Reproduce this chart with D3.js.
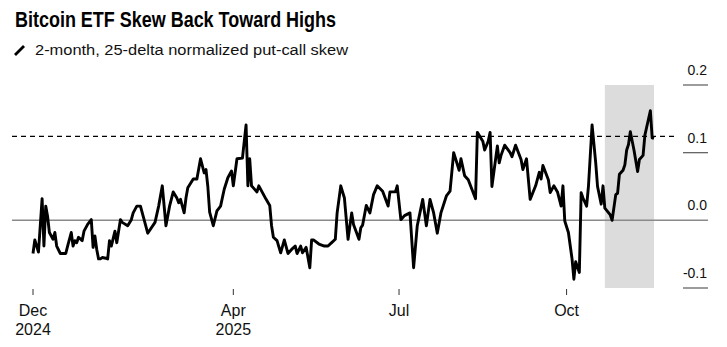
<!DOCTYPE html>
<html>
<head>
<meta charset="utf-8">
<script src="https://cdn.jsdelivr.net/npm/d3@7"></script>
<style>
  body { margin: 0; background: #fff; }
  text { font-family: "Liberation Sans", Arial, Helvetica, sans-serif; }
</style>
</head>
<body>
<script>
// ---- data ----
var dates = [
  "2024-12-12","2024-12-13","2024-12-15","2024-12-17","2024-12-18","2024-12-19","2024-12-20","2024-12-21","2024-12-23","2024-12-24","2024-12-25","2024-12-27","2024-12-30","2024-12-31",
  "2025-01-02","2025-01-03","2025-01-04","2025-01-05","2025-01-06","2025-01-08","2025-01-09","2025-01-11","2025-01-13","2025-01-14","2025-01-15","2025-01-16","2025-01-17","2025-01-18","2025-01-19","2025-01-21","2025-01-22","2025-01-23","2025-01-24","2025-01-26","2025-01-27","2025-01-29","2025-01-30",
  "2025-02-02","2025-02-04","2025-02-05","2025-02-07","2025-02-09","2025-02-11","2025-02-13","2025-02-17","2025-02-19","2025-02-21","2025-02-23","2025-02-25","2025-02-27",
  "2025-03-01","2025-03-02","2025-03-03","2025-03-05","2025-03-06","2025-03-07","2025-03-10","2025-03-12","2025-03-14","2025-03-16","2025-03-17","2025-03-18","2025-03-19","2025-03-21","2025-03-23","2025-03-25","2025-03-27","2025-03-29","2025-03-31",
  "2025-04-01","2025-04-03","2025-04-06","2025-04-08","2025-04-09","2025-04-10","2025-04-11","2025-04-12","2025-04-14","2025-04-15","2025-04-17","2025-04-19","2025-04-21","2025-04-22","2025-04-23","2025-04-25","2025-04-27","2025-04-29",
  "2025-05-01","2025-05-03","2025-05-05","2025-05-06","2025-05-08","2025-05-09","2025-05-11","2025-05-13","2025-05-14","2025-05-15","2025-05-18","2025-05-21","2025-05-23","2025-05-25","2025-05-27","2025-05-28","2025-05-30",
  "2025-06-01","2025-06-03","2025-06-05","2025-06-06","2025-06-09","2025-06-10","2025-06-11","2025-06-13","2025-06-15","2025-06-17","2025-06-19","2025-06-22","2025-06-25","2025-06-26","2025-06-29","2025-06-30",
  "2025-07-02","2025-07-04","2025-07-07","2025-07-09","2025-07-11","2025-07-14","2025-07-16","2025-07-18","2025-07-20","2025-07-22","2025-07-24","2025-07-27","2025-07-29","2025-07-31",
  "2025-08-03","2025-08-04","2025-08-06","2025-08-08","2025-08-12","2025-08-13","2025-08-16","2025-08-17","2025-08-19","2025-08-20","2025-08-21","2025-08-24","2025-08-25","2025-08-26","2025-08-28","2025-08-31",
  "2025-09-01","2025-09-03","2025-09-06","2025-09-07","2025-09-09","2025-09-11","2025-09-14","2025-09-16","2025-09-17","2025-09-18","2025-09-21","2025-09-22","2025-09-24","2025-09-26","2025-09-28","2025-09-29","2025-09-30",
  "2025-10-02","2025-10-04","2025-10-05","2025-10-06","2025-10-08","2025-10-09","2025-10-10","2025-10-12","2025-10-13","2025-10-15","2025-10-17","2025-10-18","2025-10-20","2025-10-21","2025-10-22","2025-10-25","2025-10-26","2025-10-28","2025-10-29","2025-10-30",
  "2025-11-01","2025-11-02","2025-11-03","2025-11-04","2025-11-05","2025-11-07","2025-11-09","2025-11-10","2025-11-12","2025-11-13","2025-11-16","2025-11-17","2025-11-18"
];

var skew = [
  -0.049,-0.029,-0.047,0.032,-0.038,0.021,0.006,-0.018,-0.028,-0.018,-0.038,-0.049,-0.049,-0.038,
  -0.018,-0.038,-0.030,-0.033,-0.025,-0.030,-0.016,-0.006,0.001,-0.040,-0.023,-0.043,-0.057,-0.057,-0.055,-0.056,-0.057,-0.030,-0.038,-0.016,-0.033,0.001,-0.003,
  -0.008,0.001,0.011,0.021,0.021,0.001,-0.019,-0.003,0.021,0.051,-0.008,0.021,0.042,
  0.033,0.026,0.031,0.011,0.033,0.048,0.061,0.061,0.091,0.070,0.075,0.050,0.012,-0.008,0.014,0.021,0.046,0.063,0.073,
  0.051,0.091,0.092,0.141,0.051,0.091,0.051,0.048,0.042,0.051,0.041,0.031,0.022,-0.008,-0.025,-0.030,-0.048,-0.029,
  -0.049,-0.043,-0.038,-0.049,-0.038,-0.048,-0.040,-0.070,-0.029,-0.029,-0.035,-0.038,-0.038,-0.033,-0.028,0.011,0.051,
  0.033,-0.028,0.011,-0.006,-0.028,-0.011,-0.007,0.022,0.011,0.038,0.051,0.043,0.021,0.042,0.042,0.051,
  0.001,0.007,0.011,-0.070,-0.008,0.031,-0.008,0.031,0.011,-0.019,0.011,0.036,0.043,0.100,
  0.074,0.091,0.066,0.060,0.032,0.130,0.117,0.104,0.117,0.130,0.050,0.110,0.085,0.096,0.111,0.100,
  0.094,0.111,0.090,0.075,0.091,0.031,0.051,0.071,0.061,0.081,0.060,0.041,0.051,0.042,0.021,0.051,-0.001,
  -0.018,-0.057,-0.087,-0.061,-0.077,0.041,0.033,0.021,0.050,0.141,0.085,0.050,0.024,0.051,0.018,0.008,0.000,0.038,0.040,0.068,
  0.074,0.082,0.104,0.112,0.131,0.104,0.072,0.090,0.096,0.126,0.162,0.122,0.121
];

var tickDates = ["2024-12-12", "2025-04-01", "2025-07-01", "2025-10-01"];
var tickMonths = ["Dec", "Apr", "Jul", "Oct"];
var tickYears = ["2024", "2025", "", ""];
var yTicks = [-0.1, 0.0, 0.1, 0.2];
var highLevel = 0.124;
var shadeRange = ["2025-10-22", "2025-11-18"];

var title = "Bitcoin ETF Skew Back Toward Highs";
var subtitle = "2-month, 25-delta normalized put-call skew";

// ---- setup ----
var parse = d3.timeParse("%Y-%m-%d");
var series = dates.map(function(d, i) { return { date: parse(d), value: skew[i] }; });

var svg = d3.select("body").append("svg")
  .attr("width", 727)
  .attr("height", 347);

var x = d3.scaleTime()
  .domain([parse(dates[0]), parse(dates[dates.length - 1])])
  .range([33, 654]);

var y = d3.scaleLinear()
  .domain([-0.1, 0.2])
  .range([288, 85]);

// ---- header ----
svg.append("text")
  .attr("x", 15).attr("y", 27)
  .attr("font-size", 22).attr("font-weight", "bold")
  .attr("textLength", 321).attr("lengthAdjust", "spacingAndGlyphs")
  .text(title);

svg.append("line")
  .attr("x1", 15).attr("y1", 55).attr("x2", 24).attr("y2", 46)
  .attr("stroke", "#000").attr("stroke-width", 2.8);

svg.append("text")
  .attr("x", 35).attr("y", 55)
  .attr("font-size", 15.5).attr("fill", "#111")
  .attr("textLength", 313).attr("lengthAdjust", "spacingAndGlyphs")
  .text(subtitle);

// ---- highlight band ----
svg.append("rect")
  .attr("x", x(parse(shadeRange[0])))
  .attr("y", y(0.2))
  .attr("width", x(parse(shadeRange[1])) - x(parse(shadeRange[0])))
  .attr("height", y(-0.1) - y(0.2))
  .attr("fill", "#dcdcdc");

// ---- y axis (right side) ----
var yAxis = svg.append("g");
yTicks.forEach(function(t) {
  if (t !== 0) {
    yAxis.append("line")
      .attr("x1", 683).attr("x2", 708)
      .attr("y1", y(t)).attr("y2", y(t))
      .attr("stroke", "#666").attr("stroke-width", 1.3);
  }
  yAxis.append("text")
    .attr("x", 707).attr("y", y(t) - 10)
    .attr("text-anchor", "end")
    .attr("font-size", 14).attr("fill", "#111")
    .text(d3.format(".1f")(t).replace("−", "-"));
});

// zero line across the plot
svg.append("line")
  .attr("x1", 12).attr("x2", 708)
  .attr("y1", y(0)).attr("y2", y(0))
  .attr("stroke", "#8a8a8a").attr("stroke-width", 1.5);

// previous high reference
svg.append("line")
  .attr("x1", 12).attr("x2", 674)
  .attr("y1", y(highLevel)).attr("y2", y(highLevel))
  .attr("stroke", "#000").attr("stroke-width", 1.3)
  .attr("stroke-dasharray", "5,4");

// ---- x axis ----
var xAxis = svg.append("g");
tickDates.forEach(function(d, i) {
  var px = x(parse(d));
  xAxis.append("line")
    .attr("x1", px).attr("x2", px)
    .attr("y1", 289).attr("y2", 295)
    .attr("stroke", "#333").attr("stroke-width", 1);
  xAxis.append("text")
    .attr("x", px).attr("y", 316)
    .attr("text-anchor", "middle")
    .attr("font-size", 16).attr("fill", "#111")
    .text(tickMonths[i]);
  if (tickYears[i]) {
    xAxis.append("text")
      .attr("x", px).attr("y", 335)
      .attr("text-anchor", "middle")
      .attr("font-size", 16).attr("fill", "#111")
      .text(tickYears[i]);
  }
});

// ---- skew line ----
var line = d3.line()
  .x(function(d) { return x(d.date); })
  .y(function(d) { return y(d.value); });

svg.append("path")
  .datum(series)
  .attr("d", line)
  .attr("fill", "none")
  .attr("stroke", "#000")
  .attr("stroke-width", 2.9)
  .attr("stroke-linejoin", "round");
</script>
</body>
</html>
